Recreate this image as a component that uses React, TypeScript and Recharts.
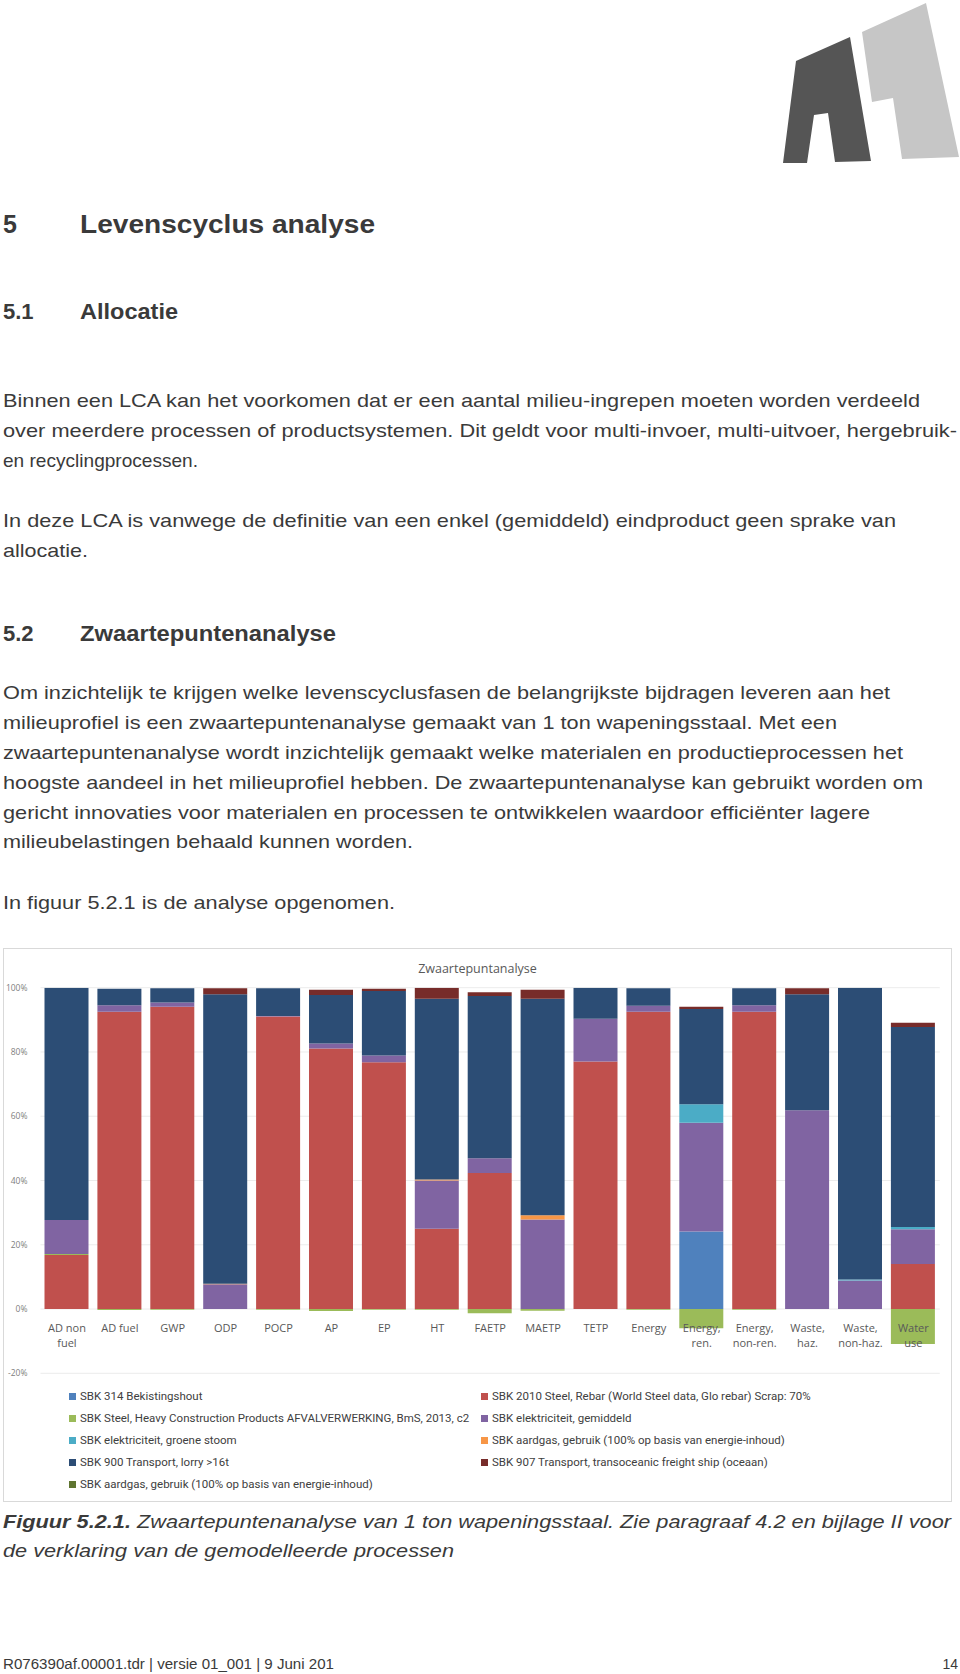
import { Bar, BarChart, CartesianGrid, XAxis, YAxis } from 'recharts'

// categories on the x axis (Excel wraps the long ones onto two lines)
const categories = [
  'AD non fuel', 'AD fuel', 'GWP', 'ODP', 'POCP', 'AP', 'EP', 'HT', 'FAETP',
  'MAETP', 'TETP', 'Energy', 'Energy, ren.', 'Energy, non-ren.', 'Waste, haz.',
  'Waste, non-haz.', 'Water use',
]

// share per process, in %
const bekistingshout = [0, 0, 0, 0, 0, 0, 0, 0, 0, 0, 0, 0, 24.1, 0, 0, 0, 0]
const rebar = [16.8, 92.5, 94.1, 0, 91.0, 81.1, 76.8, 25.0, 42.3, 0, 77.0, 92.5, 0, 92.5, 0, 0, 14.0]
const afvalverwerking = [0.3, -0.3, -0.2, 0, -0.2, -0.6, -0.2, -0.2, -1.3, -0.5, 0, -0.2, -6.0, -0.2, 0, 0, -10.9]
const elekGemiddeld = [10.6, 2.0, 1.3, 7.7, 0.2, 1.5, 2.1, 15.0, 4.6, 27.9, 13.3, 1.9, 33.9, 2.0, 61.9, 8.9, 10.8]
const elekGroen = [0, 0, 0, 0, 0, 0, 0, 0, 0, 0, 0, 0, 5.7, 0, 0, 0.3, 0.7]
const aardgas = [0, 0, 0, 0.2, 0, 0, 0, 0.3, 0, 1.3, 0, 0, 0, 0, 0, 0, 0]
const lorry = [72.3, 5.2, 4.4, 90.1, 8.6, 15.1, 20.1, 56.3, 50.5, 67.4, 9.7, 5.4, 29.7, 5.3, 36.1, 90.8, 62.3]
const ship = [0, 0, 0, 1.8, 0, 1.7, 0.7, 3.4, 1.2, 2.8, 0, 0, 0.7, 0, 1.8, 0, 1.3]
const aardgas2 = [0, 0, 0, 0, 0, 0, 0, 0, 0, 0, 0, 0, 0, 0, 0, 0, 0]

const yTicks = [-20, 0, 20, 40, 60, 80, 100]

const series = [
  { key: 's1', name: 'SBK 314 Bekistingshout', color: '#4F81BD', values: bekistingshout },
  { key: 's2', name: 'SBK 2010 Steel, Rebar (World Steel data, Glo rebar)  Scrap: 70%', color: '#C0504D', values: rebar },
  { key: 's3', name: 'SBK Steel, Heavy Construction Products AFVALVERWERKING, BmS, 2013, c2', color: '#9BBB59', values: afvalverwerking },
  { key: 's4', name: 'SBK elektriciteit, gemiddeld', color: '#8064A2', values: elekGemiddeld },
  { key: 's5', name: 'SBK elektriciteit, groene stoom', color: '#4BACC6', values: elekGroen },
  { key: 's6', name: 'SBK aardgas, gebruik (100% op basis van energie-inhoud)', color: '#F79646', values: aardgas },
  { key: 's7', name: 'SBK 900 Transport, lorry >16t', color: '#2C4D75', values: lorry },
  { key: 's8', name: 'SBK 907 Transport, transoceanic freight ship (oceaan)', color: '#772C2A', values: ship },
  { key: 's9', name: 'SBK aardgas, gebruik (100% op basis van energie-inhoud)', color: '#5F7530', values: aardgas2 },
]

const rows = categories.map((name, i) => {
  const row: Record<string, string | number> = { name }
  series.forEach((s) => (row[s.key] = s.values[i]))
  return row
})

const ZERO_OFFSET = 64.27 // px between the -20% line and the 0% line

function CategoryTick({ x, y, payload }: any) {
  const label: string = payload.value
  let lines = [label]
  if (label.length > 8) {
    const cut = label.lastIndexOf(' ')
    lines = [label.slice(0, cut), label.slice(cut + 1)]
  }
  const base = y - ZERO_OFFSET + 22.5
  return (
    <text
      x={x}
      y={base}
      textAnchor="middle"
      fontSize={11}
      fontFamily="'Open Sans', sans-serif"
      fill="#595959"
    >
      {lines.map((l, i) => (
        <tspan key={i} x={x} dy={i === 0 ? 0 : 15}>
          {l}
        </tspan>
      ))}
    </text>
  )
}

const page = {
  color: '#3a3a3a',
  font: "'Liberation Sans', Arial, sans-serif",
}

const bodyLines: [string, number, number][] = [
  ['Binnen een LCA kan het voorkomen dat er een aantal milieu-ingrepen moeten worden verdeeld', 407, 917],
  ['over meerdere processen of productsystemen. Dit geldt voor multi-invoer, multi-uitvoer, hergebruik-', 437, 954],
  ['en recyclingprocessen.', 467, 195],
  ['In deze LCA is vanwege de definitie van een enkel (gemiddeld) eindproduct geen sprake van', 527, 893],
  ['allocatie.', 557, 85],
  ['Om inzichtelijk te krijgen welke levenscyclusfasen de belangrijkste bijdragen leveren aan het', 699, 887],
  ['milieuprofiel is een zwaartepuntenanalyse gemaakt van 1 ton wapeningsstaal. Met een', 729, 834],
  ['zwaartepuntenanalyse wordt inzichtelijk gemaakt welke materialen en productieprocessen het', 759, 900],
  ['hoogste aandeel in het milieuprofiel hebben. De zwaartepuntenanalyse kan gebruikt worden om', 789, 920],
  ['gericht innovaties voor materialen en processen te ontwikkelen waardoor efficiënter lagere', 819, 867],
  ['milieubelastingen behaald kunnen worden.', 848, 410],
  ['In figuur 5.2.1 is de analyse opgenomen.', 909, 392],
]

function PageText() {
  return (
    <svg
      width={960}
      height={1674}
      style={{ position: 'absolute', left: 0, top: 0 }}
      fontFamily={page.font}
      fill={page.color}
    >
      {/* logo */}
      <polygon points="783,163 796,61 850,37 871,161 835,162 828,113 814,115 807,163" fill="#555555" />
      <polygon points="862,32 926,3 959,157 902,159 893,98 872,102" fill="#c6c6c6" />

      <text x={3} y={233} fontSize={25} fontWeight="bold">5</text>
      <text x={80} y={233} fontSize={25} fontWeight="bold" textLength={295} lengthAdjust="spacingAndGlyphs">
        Levenscyclus analyse
      </text>
      <text x={3} y={319} fontSize={22} fontWeight="bold">5.1</text>
      <text x={80} y={319} fontSize={22} fontWeight="bold" textLength={98} lengthAdjust="spacingAndGlyphs">
        Allocatie
      </text>
      <text x={3} y={641} fontSize={22} fontWeight="bold">5.2</text>
      <text x={80} y={641} fontSize={22} fontWeight="bold" textLength={256} lengthAdjust="spacingAndGlyphs">
        Zwaartepuntenanalyse
      </text>

      {bodyLines.map(([t, y, len]) => (
        <text key={y} x={3} y={y} fontSize={19} textLength={len} lengthAdjust="spacingAndGlyphs">
          {t}
        </text>
      ))}

      <text x={3} y={1528} fontSize={19} fontStyle="italic" textLength={948} lengthAdjust="spacingAndGlyphs">
        <tspan fontWeight="bold">Figuur 5.2.1.</tspan> Zwaartepuntenanalyse van 1 ton wapeningsstaal. Zie paragraaf 4.2 en bijlage II voor
      </text>
      <text x={3} y={1557} fontSize={19} fontStyle="italic" textLength={451} lengthAdjust="spacingAndGlyphs">
        de verklaring van de gemodelleerde processen
      </text>

      <text x={3} y={1669} fontSize={14} textLength={331} lengthAdjust="spacingAndGlyphs">
        R076390af.00001.tdr | versie 01_001 | 9 Juni 201
      </text>
      <text x={958} y={1669} fontSize={14} textAnchor="end">14</text>
    </svg>
  )
}

function ChartLegend() {
  const rowsY = [447, 469, 491, 513, 535]
  return (
    <>
      {series.map((s, i) => {
        const col = i % 2
        const row = Math.floor(i / 2)
        return (
          <div
            key={s.key}
            style={{
              position: 'absolute',
              left: col === 0 ? 65 : 477,
              top: rowsY[row] - 8,
              height: 16,
              display: 'flex',
              alignItems: 'center',
              whiteSpace: 'nowrap',
              fontFamily: 'Roboto, sans-serif',
              fontSize: 11.5,
              color: '#404040',
            }}
          >
            <span style={{ width: 7, height: 7, background: s.color, marginRight: 4, display: 'inline-block' }} />
            {s.name}
          </div>
        )
      })}
    </>
  )
}

export default function App() {
  return (
    <div style={{ position: 'absolute', left: 0, top: 0, width: 960, height: 1674, background: '#fff' }}>
      <PageText />
      <div
        style={{
          position: 'absolute',
          left: 3,
          top: 948,
          width: 949,
          height: 554,
          border: '1px solid #d9d9d9',
          boxSizing: 'border-box',
          background: '#fff',
        }}
      >
        <div
          style={{
            position: 'absolute',
            left: 0,
            width: 947,
            top: 11,
            textAlign: 'center',
            fontFamily: "'Open Sans', sans-serif",
            fontSize: 12.5,
            color: '#595959',
          }}
        >
          Zwaartepuntanalyse
        </div>
        <BarChart
          width={947}
          height={552}
          data={rows}
          stackOffset="sign"
          barSize={44}
          margin={{ top: 38.7, right: 11.2, bottom: 126.7, left: 0 }}
        >
          <CartesianGrid vertical={false} stroke="#ececec" />
          <XAxis
            dataKey="name"
            height={1}
            axisLine={false}
            tickLine={false}
            tickSize={0}
            tickMargin={0}
            interval={0}
            tick={<CategoryTick />}
          />
          <YAxis
            width={36.5}
            domain={[-20, 100]}
            ticks={yTicks}
            allowDataOverflow
            axisLine={false}
            tickLine={false}
            tickMargin={7}
            tickFormatter={(v: number) => `${v}%`}
            tick={{ fontSize: 8.5, fill: '#808080', fontFamily: "'Open Sans', sans-serif" }}
          />
          {series.map((s) => (
            <Bar key={s.key} dataKey={s.key} name={s.name} stackId="a" fill={s.color} isAnimationActive={false} />
          ))}
        </BarChart>
        <ChartLegend />
      </div>
    </div>
  )
}
